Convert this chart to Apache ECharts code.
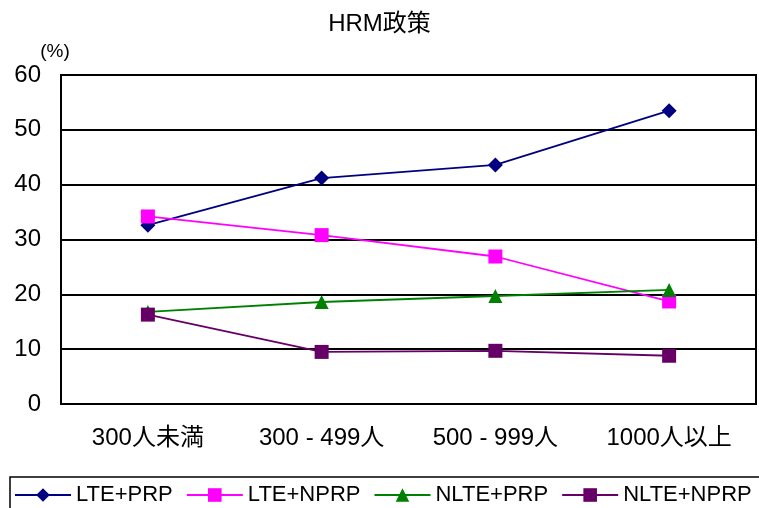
<!DOCTYPE html>
<html><head><meta charset="utf-8">
<script src="https://cdn.jsdelivr.net/npm/echarts@6/dist/echarts.min.js"></script>
<style>html,body{margin:0;padding:0;background:#fff}#c{width:759px;height:508px}</style>
</head><body><div id="c"></div>
<script>
const categories = ['300人未満', '300 - 499人', '500 - 999人', '1000人以上'];
const lteprp = [32.6, 41.2, 43.6, 53.5];
const ltenprp = [34.2, 30.8, 26.9, 18.7];
const nlteprp = [16.8, 18.6, 19.7, 20.8];
const nltenprp = [16.3, 9.5, 9.7, 8.8];
const seriesNames = ['LTE+PRP', 'LTE+NPRP', 'NLTE+PRP', 'NLTE+NPRP'];
const yTicks = [0, 10, 20, 30, 40, 50, 60];

const ff = '"Liberation Sans", Arial, "Noto Sans CJK JP", sans-serif';
const chart = echarts.init(document.getElementById('c'));
function mk(name, data, color, symbol, size) {
  return { name, type: 'line', data, symbol, symbolSize: size,
    lineStyle: { color, width: 1.8 }, itemStyle: { color }, animation: false };
}
chart.setOption({
  animation: false,
  title: { text: 'HRM政策', left: 'center', top: 7,
    textStyle: { fontFamily: ff, fontSize: 24, fontWeight: 'normal', color: '#000' } },
  grid: { left: 61, top: 75, width: 695, height: 329, show: true,
    borderColor: '#000', borderWidth: 2, backgroundColor: '#fff' },
  legend: { left: 10, top: 477, width: 900, orient: 'horizontal',
    borderColor: '#000', borderWidth: 1.5, padding: [7, 30, 12, 4],
    itemWidth: 56, itemHeight: 17, itemGap: 13,
    textStyle: { fontFamily: ff, fontSize: 22, color: '#000' },
    data: seriesNames },
  xAxis: { type: 'category', data: categories, boundaryGap: true,
    axisLine: { lineStyle: { color: '#000', width: 2 } },
    axisTick: { inside: true, length: 6, lineStyle: { color: '#000', width: 1.5 } },
    axisLabel: { fontFamily: ff, fontSize: 24, color: '#000', margin: 22 } },
  yAxis: { type: 'value', min: yTicks[0], max: yTicks[yTicks.length - 1], interval: 10,
    name: '(%)', nameLocation: 'end', nameGap: 14,
    nameTextStyle: { fontFamily: ff, fontSize: 19, color: '#000', align: 'center', padding: [0, 12, 0, 0] },
    axisLine: { show: true, lineStyle: { color: '#000', width: 2 } },
    axisTick: { show: false },
    axisLabel: { fontFamily: ff, fontSize: 24, color: '#000', margin: 20 },
    splitLine: { lineStyle: { color: '#000', width: 2 } } },
  series: [
    mk(seriesNames[0], lteprp, '#000080', 'diamond', 15),
    mk(seriesNames[1], ltenprp, '#ff00ff', 'rect', 14),
    mk(seriesNames[2], nlteprp, '#008000', 'triangle', 14),
    mk(seriesNames[3], nltenprp, '#660066', 'rect', 14)
  ]
});
</script></body></html>
